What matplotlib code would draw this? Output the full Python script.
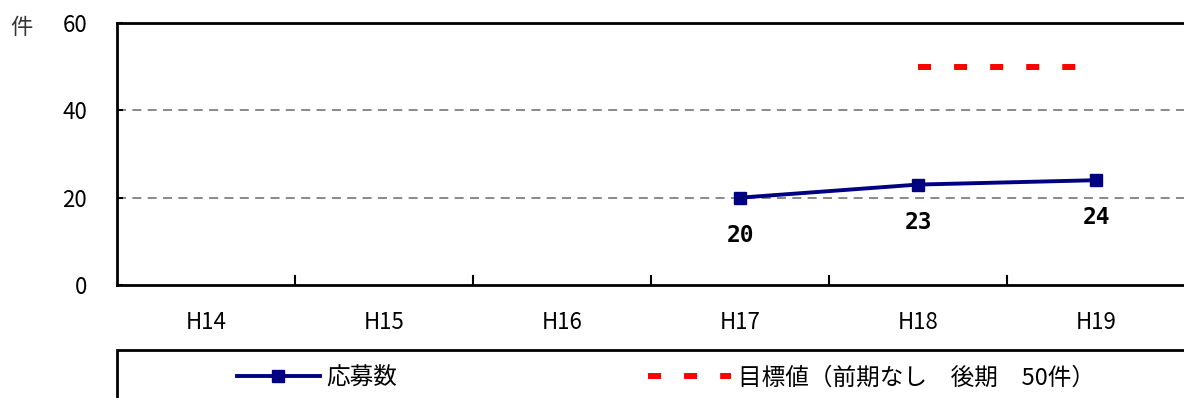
import matplotlib
matplotlib.use("Agg")
import matplotlib.pyplot as plt
from matplotlib.patches import Rectangle

plt.rcParams["font.family"] = ["Noto Sans CJK JP", "DejaVu Sans"]

# データ
years = ["H14", "H15", "H16", "H17", "H18", "H19"]
applications = [None, None, None, 20, 23, 24]
target_years = ["H18", "H19"]
target_values = [50, 50]
y_ticks = [0, 20, 40, 60]

label_apps = "応募数"
label_target = "目標値（前期なし　後期　50件）"

fig = plt.figure(figsize=(11.84, 3.98), dpi=100)
ax = fig.add_axes([117 / 1184, 1 - 285 / 398, 1068 / 1184, 262 / 398])

xs = list(range(len(years)))
app_x = [i for i, v in zip(xs, applications) if v is not None]
app_y = [v for v in applications if v is not None]
tgt_x = [years.index(y) for y in target_years]

ax.plot(app_x, app_y, color="#000080", lw=2.8, marker="s", ms=9,
        label=label_apps, zorder=3)
ax.plot(tgt_x, target_values, color="#ff0000", lw=4.3,
        linestyle=(0, (2.18, 3.86)), dash_capstyle="butt", label=label_target, zorder=3)

for x, v in zip(app_x, app_y):
    ax.annotate(str(v), (x, v), xytext=(0, -27), textcoords="offset points",
                ha="center", va="center", fontsize=16.5, fontweight="bold",
                family="DejaVu Sans Mono")

ax.set_xlim(-0.5, len(years) - 0.5)
ax.set_ylim(0, 60)
ax.set_yticks(y_ticks)
ax.set_xticks(xs)
ax.set_xticklabels(years)
ax.set_xticks([i + 0.5 for i in xs[:-1]], minor=True)
ax.tick_params(axis="x", which="major", length=0, pad=19, labelsize=16)
ax.tick_params(axis="x", which="minor", direction="in", length=7, width=1.5)
ax.tick_params(axis="y", direction="in", length=4, width=1.5, pad=21.5, labelsize=16)

for y in y_ticks[1:-1]:
    ax.axhline(y, color="#808080", lw=1.3, linestyle=(0, (5, 3.5)), zorder=1)

for s in ax.spines.values():
    s.set_linewidth(2)
    s.set_color("black")

fig.text(10 / 1184, 1 - 28 / 398, "件", fontsize=16, va="center", ha="left",
         color="#333333")

# 凡例の枠
fig.patches.append(Rectangle((117 / 1184, -0.05), 1.0, 0.05 + 1 - 350 / 398,
                             transform=fig.transFigure, fill=False,
                             edgecolor="black", lw=2))
handles, labels = ax.get_legend_handles_labels()
fig.legend(handles, labels, loc="center left",
           bbox_to_anchor=(237 / 1184, 1 - 378 / 398), ncol=2, frameon=False,
           fontsize=17, handlelength=3.5, handletextpad=0.3, columnspacing=10.6,
           borderpad=0, borderaxespad=0)

fig.savefig("out.png", dpi=100)
